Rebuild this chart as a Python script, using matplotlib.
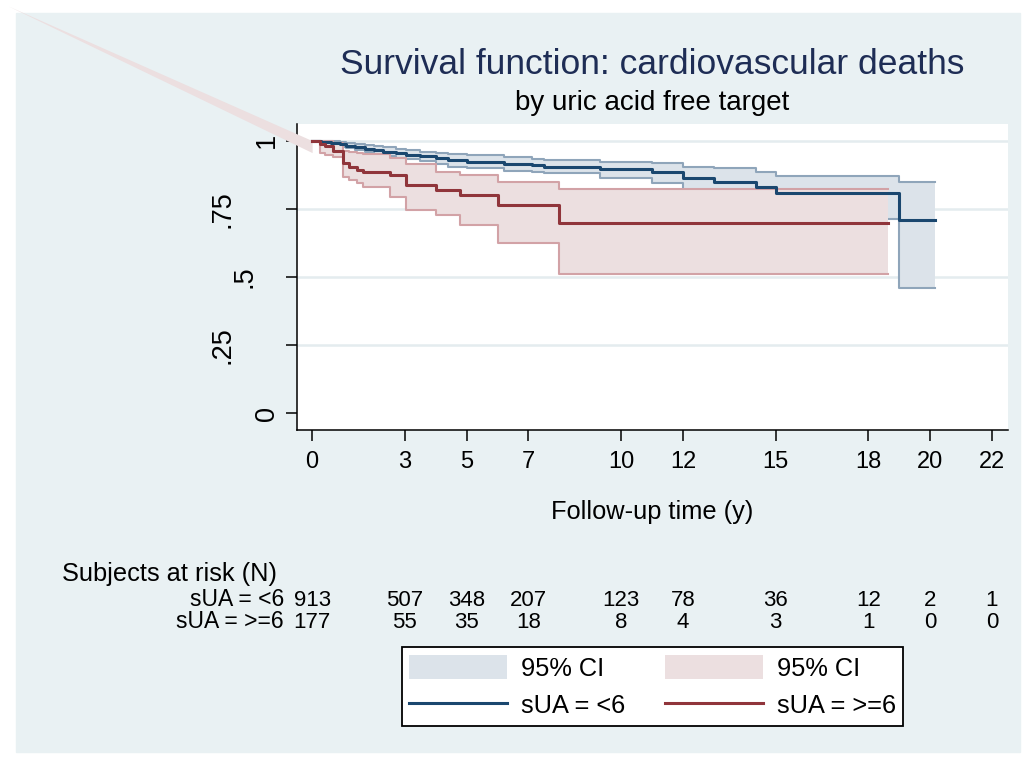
import matplotlib
matplotlib.use("Agg")
import matplotlib.pyplot as plt
from matplotlib.patches import Rectangle, Patch
from matplotlib.lines import Line2D
from matplotlib.transforms import blended_transform_factory

plt.rcParams['font.family'] = 'Liberation Sans'

# sUA < 6 : Kaplan-Meier estimate with 95% CI
lt6_t = [0, 0.3, 0.6, 0.9, 1.1, 1.4, 1.7, 2.0, 2.3, 2.7, 3.05, 3.5, 4.0, 4.4, 5.0,
         6.2, 7.1, 7.5, 9.3, 11.0, 12.0, 13.0, 14.35, 15.0, 19.0, 20.15]
lt6_s = [1.0, 0.995, 0.99, 0.986, 0.982, 0.976, 0.971, 0.966, 0.960, 0.954, 0.948, 0.943, 0.938, 0.928, 0.921,
         0.915, 0.911, 0.905, 0.895, 0.884, 0.862, 0.850, 0.829, 0.809, 0.709, 0.709]
lt6_hi = [1.0, 1.0, 0.998, 0.995, 0.992, 0.988, 0.984, 0.98, 0.975, 0.970, 0.965, 0.960, 0.955, 0.950, 0.946,
          0.939, 0.932, 0.929, 0.923, 0.917, 0.905, 0.899, 0.886, 0.871, 0.850, 0.850]
lt6_lo = [1.0, 0.99, 0.982, 0.977, 0.972, 0.964, 0.958, 0.952, 0.944, 0.938, 0.931, 0.925, 0.915, 0.905, 0.899,
          0.890, 0.886, 0.880, 0.862, 0.844, 0.815, 0.80, 0.775, 0.713, 0.459, 0.459]

# sUA >= 6
ge6_t = [0, 0.26, 0.42, 0.69, 1.0, 1.2, 1.45, 1.66, 2.52, 3.03, 4.0, 4.8, 6.03, 8.0, 18.65]
ge6_s = [1.0, 0.988, 0.981, 0.963, 0.917, 0.905, 0.893, 0.886, 0.874, 0.837, 0.819, 0.801, 0.764, 0.697, 0.697]
ge6_hi = [1.0, 1.0, 0.997, 0.99, 0.962, 0.958, 0.955, 0.952, 0.935, 0.914, 0.886, 0.874, 0.850, 0.823, 0.823]
ge6_lo = [1.0, 0.956, 0.948, 0.941, 0.868, 0.856, 0.846, 0.831, 0.795, 0.746, 0.727, 0.689, 0.626, 0.511, 0.511]

# stray CI wedge that the original graph draws outside the plot
wedge_t = [-9.84, 0.0]
wedge_lo = [1.494, 0.956]
wedge_hi = [1.494, 1.0]

risk_times = [0, 3, 5, 7, 10, 12, 15, 18, 20, 22]
risk_lt6 = [913, 507, 348, 207, 123, 78, 36, 12, 2, 1]
risk_ge6 = [177, 55, 35, 18, 8, 4, 3, 1, 0, 0]
ytick_vals = [0, 0.25, 0.5, 0.75, 1]
ytick_text = ["0", ".25", ".5", ".75", "1"]

W, H = 1028, 759
bg = '#e9f1f3'
blue, blue_fill, blue_edge = '#1a476f', '#dce3ea', '#8fa5ba'
red, red_fill, red_edge = '#90353b', '#ecdfe0', '#d2a2a6'

fig = plt.figure(figsize=(W / 100, H / 100), dpi=100)
fig.patch.set_facecolor('white')
fig.add_artist(Rectangle((16 / W, 1 - 752 / H), (1020 - 16) / W, (752 - 13) / H,
                         transform=fig.transFigure, color=bg, zorder=0))

ax = fig.add_axes([297 / W, 1 - 430 / H, (1008 - 297) / W, (430 - 124) / H])
ax.set_facecolor('white')
ax.set_xlim(-0.49, 22.52)
ax.set_ylim(-0.061, 1.061)

for v in ytick_vals[1:]:
    ax.axhline(v, color='#e4ecef', lw=1.8, zorder=1)

ax.fill_between(lt6_t, lt6_lo, lt6_hi, step='post', color=blue_fill, lw=0, zorder=2)
ax.step(lt6_t, lt6_hi, where='post', color=blue_edge, lw=1.5, zorder=3)
ax.step(lt6_t, lt6_lo, where='post', color=blue_edge, lw=1.5, zorder=3)
ax.fill_between(ge6_t, ge6_lo, ge6_hi, step='post', color=red_fill, lw=0, zorder=4)
ax.step(ge6_t, ge6_hi, where='post', color=red_edge, lw=1.5, zorder=5)
ax.step(ge6_t, ge6_lo, where='post', color=red_edge, lw=1.5, zorder=5)
ax.fill_between(wedge_t, wedge_lo, wedge_hi, color=red_fill, lw=0, zorder=6, clip_on=False)
ax.step(lt6_t, lt6_s, where='post', color=blue, lw=2.2, zorder=7)
ax.step(ge6_t, ge6_s, where='post', color=red, lw=2.2, zorder=8)

for side in ['top', 'right']:
    ax.spines[side].set_visible(False)
for side in ['left', 'bottom']:
    ax.spines[side].set_linewidth(1.1)

ax.set_xticks(risk_times)
ax.set_xticklabels([str(t) for t in risk_times])
ax.set_yticks(ytick_vals)
ax.set_yticklabels([])
ax.tick_params(axis='both', length=8, width=1.1, labelsize=17, pad=7)

# rotated y labels, staggered like the original
ytr = blended_transform_factory(fig.transFigure, ax.transData)
for v, s in zip(ytick_vals, ytick_text):
    xc = 267 - 22 * (len(s) - 1)
    fig.text(xc / W, v, s, transform=ytr, rotation=90, ha='center', va='center', fontsize=19.5)

fig.text(652.5 / W, 1 - 65 / H, 'Survival function: cardiovascular deaths', ha='center', va='center',
         fontsize=25.5, color='#1e2d55')
fig.text(652.5 / W, 1 - 103 / H, 'by uric acid free target', ha='center', va='center', fontsize=20)
fig.text(652.5 / W, 1 - 512 / H, 'Follow-up time (y)', ha='center', va='center', fontsize=18.3)

# risk table
rtr = blended_transform_factory(ax.transData, fig.transFigure)
fig.text(62 / W, 1 - 574 / H, 'Subjects at risk (N)', ha='left', va='center', fontsize=18.3)
fig.text(284 / W, 1 - 600 / H, 'sUA = <6', ha='right', va='center', fontsize=16.5)
fig.text(284 / W, 1 - 622 / H, 'sUA = >=6', ha='right', va='center', fontsize=16.5)
for t, a, b in zip(risk_times, risk_lt6, risk_ge6):
    fig.text(t, 1 - 600 / H, str(a), transform=rtr, ha='center', va='center', fontsize=16)
    fig.text(t, 1 - 622 / H, str(b), transform=rtr, ha='center', va='center', fontsize=16)

handles = [Patch(facecolor=blue_fill, edgecolor='none'),
           Line2D([], [], color=blue, lw=2.2),
           Patch(facecolor=red_fill, edgecolor='none'),
           Line2D([], [], color=red, lw=2.2)]
labels = ['95% CI', 'sUA = <6', '95% CI', 'sUA = >=6']
leg = fig.legend(handles, labels, ncol=2, loc='center', bbox_to_anchor=(652.5 / W, 1 - 686.5 / H),
                 fontsize=18.3, frameon=True, fancybox=False, edgecolor='black', framealpha=1,
                 handlelength=3.85, handleheight=1.1, handletextpad=0.55, columnspacing=1.55,
                 borderpad=0.3, labelspacing=0.45)
leg.get_frame().set_linewidth(1.3)

fig.savefig('out.png', dpi=100, facecolor=fig.get_facecolor())
